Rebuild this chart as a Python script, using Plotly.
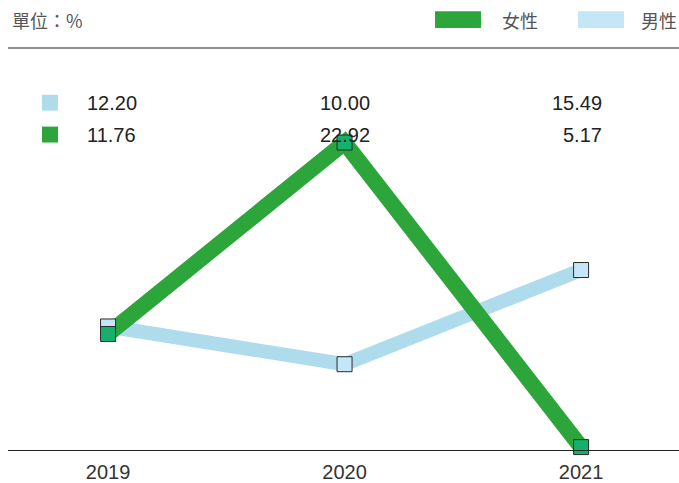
import plotly.graph_objects as go

years = ["2019", "2020", "2021"]
male = [12.20, 10.00, 15.49]
female = [11.76, 22.92, 5.17]
unit_label = "單位：%"
series_names = ["女性", "男性"]

MALE_LINE = "#afdcec"
MALE_FILL = "#c5e6f7"
FEMALE_LINE = "#2ca63a"
FEMALE_FILL = "#15b06c"
NUM_FONT = "Liberation Sans, Arial, sans-serif"
CJK_FONT = "Noto Sans CJK TC, sans-serif"

x = list(range(len(years)))

fig = go.Figure()

# lines first, markers on top
fig.add_trace(go.Scatter(x=x, y=male, mode="lines",
                         line=dict(color=MALE_LINE, width=14), hoverinfo="skip"))
fig.add_trace(go.Scatter(x=x, y=female, mode="lines",
                         line=dict(color=FEMALE_LINE, width=16), hoverinfo="skip"))
fig.add_trace(go.Scatter(x=x, y=male, mode="markers", name=series_names[1],
                         cliponaxis=False,
                         marker=dict(symbol="square", size=15, color=MALE_FILL,
                                     line=dict(color="#2a2a2a", width=1))))
fig.add_trace(go.Scatter(x=x, y=female, mode="markers", name=series_names[0],
                         cliponaxis=False,
                         marker=dict(symbol="square", size=15, color=FEMALE_FILL,
                                     line=dict(color="#2a2a2a", width=1))))

shapes = [
    # top rule
    dict(type="line", xref="paper", yref="paper", x0=0, x1=1, y0=1, y1=1,
         line=dict(color="#222", width=1)),
    # header legend swatches
    dict(type="rect", xref="paper", yref="paper", x0=0.6364, x1=0.7049,
         y0=1.0495, y1=1.0916, fillcolor=FEMALE_LINE, line=dict(width=0)),
    dict(type="rect", xref="paper", yref="paper", x0=0.8495, x1=0.9180,
         y0=1.0495, y1=1.0916, fillcolor=MALE_FILL, line=dict(width=0)),
    # table swatches
    dict(type="rect", xref="paper", yref="paper", x0=0.0507, x1=0.0745,
         y0=0.8441, y1=0.8837, fillcolor=MALE_LINE, line=dict(width=0)),
    dict(type="rect", xref="paper", yref="paper", x0=0.0507, x1=0.0745,
         y0=0.7649, y1=0.8045, fillcolor=FEMALE_LINE, line=dict(width=0)),
]

annotations = [
    dict(text=unit_label, xref="paper", yref="paper", x=0.003, y=1.069,
         xanchor="left", yanchor="middle", showarrow=False,
         font=dict(family=CJK_FONT, size=18, color="#555")),
    dict(text=series_names[0], xref="paper", yref="paper", x=0.733, y=1.069,
         xanchor="left", yanchor="middle", showarrow=False,
         font=dict(family=CJK_FONT, size=18, color="#555")),
    dict(text=series_names[1], xref="paper", yref="paper", x=1.0, y=1.069,
         xanchor="right", yanchor="middle", showarrow=False,
         font=dict(family=CJK_FONT, size=18, color="#555")),
]

# value table
row_y = [0.8639, 0.7847]
for vals, ry in zip([male, female], row_y):
    annotations.append(dict(text=f"{vals[0]:.2f}", xref="paper", yref="paper",
                            x=0.1148, y=ry, xanchor="left", yanchor="middle",
                            showarrow=False,
                            font=dict(family=NUM_FONT, size=20, color="#222")))
    annotations.append(dict(text=f"{vals[1]:.2f}", xref="x", yref="paper",
                            x=1, y=ry, xanchor="center", yanchor="middle",
                            showarrow=False,
                            font=dict(family=NUM_FONT, size=20, color="#222")))
    annotations.append(dict(text=f"{vals[2]:.2f}", xref="paper", yref="paper",
                            x=0.8882, y=ry, xanchor="right", yanchor="middle",
                            showarrow=False,
                            font=dict(family=NUM_FONT, size=20, color="#222")))

fig.update_layout(
    width=679, height=483,
    margin=dict(l=8, r=0, t=48, b=31),
    paper_bgcolor="white", plot_bgcolor="white",
    showlegend=False,
    shapes=shapes,
    annotations=annotations,
    xaxis=dict(range=[-0.423, 2.414], tickvals=x, ticktext=years,
               showgrid=False, zeroline=False, showline=True,
               linecolor="#222", linewidth=1, ticks="", ticklabelstandoff=4,
               tickfont=dict(family=NUM_FONT, size=20, color="#333")),
    yaxis=dict(range=[5.0, 28.43], showgrid=False, zeroline=False,
               showticklabels=False, showline=False),
)

# drop the browser's default body margin so the figure fills the window
fig.write_html("out.html", config={"displayModeBar": False},
               post_script="document.body.style.margin='0';"
                           "document.body.style.overflow='hidden';")
